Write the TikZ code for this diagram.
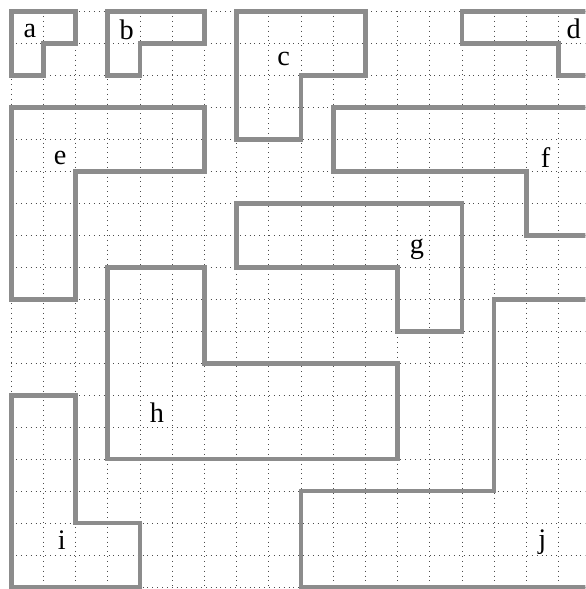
\documentclass[tikz,border=0pt]{standalone}
\usepackage{fontspec}
\setmainfont{Liberation Serif}
\begin{document}
\begin{tikzpicture}[x={(1cm,0)},y={(0,-0.9938cm)},
  gridline/.style={black!70,line width=0.7pt,dash pattern=on 0.7pt off 3.6pt},
  region/.style={draw=black!45,line width=4.2pt,line join=miter},
  lbl/.style={anchor=base,inner sep=0pt,font=\fontsize{25}{28}\selectfont}]
\useasboundingbox (-0.348,-0.35) rectangle (17.836,18.06);
\clip (-0.348,-0.35) rectangle (17.836,18.06);
% grid
\foreach \c in {0,...,17} \draw[gridline] (\c,0) -- (\c,18.2);
\foreach \r in {0,...,18} \draw[gridline] (0,\r) -- (18.2,\r);
% regions
\draw[region] (0,0) -- (2,0) -- (2,1) -- (1,1) -- (1,2) -- (0,2) -- cycle;
\draw[region] (3,0) -- (6,0) -- (6,1) -- (4,1) -- (4,2) -- (3,2) -- cycle;
\draw[region] (7,0) -- (11,0) -- (11,2) -- (9,2) -- (9,4) -- (7,4) -- cycle;
\draw[region] (18.5,0) -- (14,0) -- (14,1) -- (17,1) -- (17,2) -- (18.5,2);
\draw[region] (0,3) -- (6,3) -- (6,5) -- (2,5) -- (2,9) -- (0,9) -- cycle;
\draw[region] (18.5,3) -- (10,3) -- (10,5) -- (16,5) -- (16,7) -- (18.5,7);
\draw[region] (7,6) -- (14,6) -- (14,10) -- (12,10) -- (12,8) -- (7,8) -- cycle;
\draw[region] (3,8) -- (6,8) -- (6,11) -- (12,11) -- (12,14) -- (3,14) -- cycle;
\draw[region] (0,12) -- (2,12) -- (2,16) -- (4,16) -- (4,18) -- (0,18) -- cycle;
\draw[region] (18.5,9) -- (15,9) -- (15,15) -- (9,15) -- (9,18) -- (18.5,18);
% labels
\node[lbl] (la) at (0.58,0.82) {a};
\node[lbl] (lb) at (3.59,0.87) {b};
\node[lbl] (lc) at (8.46,1.70) {c};
\node[lbl] (ld) at (17.47,0.84) {d};
\node[lbl] (le) at (1.52,4.78) {e};
\node[lbl] (lf) at (16.6,4.88) {f};
\node[lbl] (lg) at (12.6,7.58) {g};
\node[lbl] (lh) at (4.53,12.87) {h};
\node[lbl] (li) at (1.57,16.83) {i};
\node[lbl] (lj) at (16.5,16.78) {j};
\end{tikzpicture}
\end{document}
